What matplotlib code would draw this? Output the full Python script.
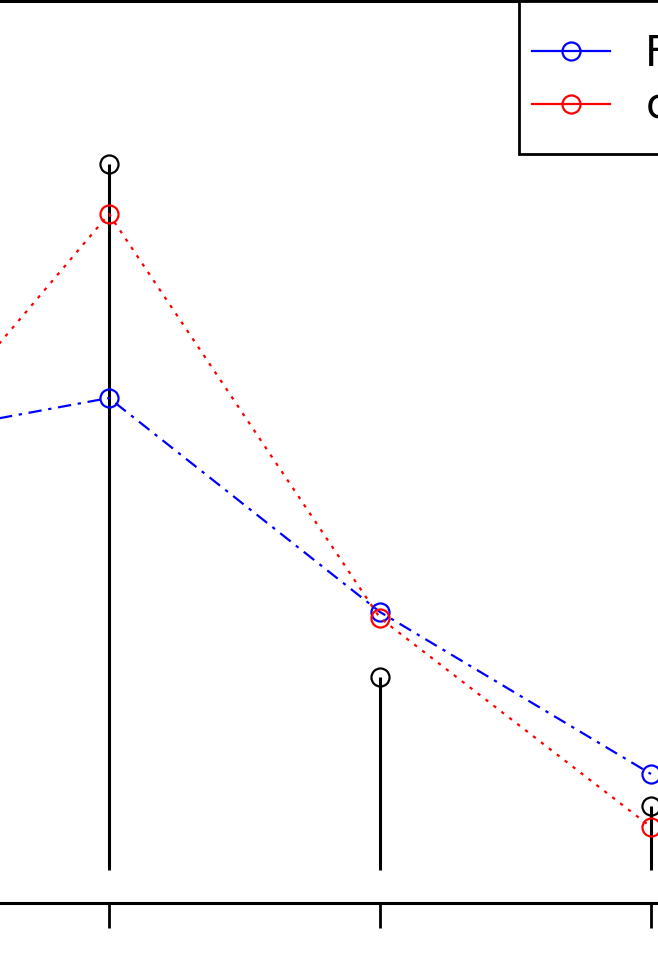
import matplotlib
matplotlib.use("Agg")
import matplotlib.pyplot as plt
from matplotlib.patches import Rectangle
from matplotlib.lines import Line2D

x = [1, 2, 3, 4]
stem_vals = [3.00, 7.06, 1.93, 0.64]
blue_vals = [4.22, 4.72, 2.58, 0.96]
red_vals = [3.36, 6.56, 2.52, 0.43]
labels = ["F", "c"]

W, H = 658, 955
fig = plt.figure(figsize=(W / 100, H / 100), dpi=100)
fig.patch.set_facecolor("white")

# axes geometry in pixels
px_per_unit = 271.0
x2_px = 109.0
xlim = (0.5, 4.5)
left_px = x2_px + (xlim[0] - 2) * px_per_unit
right_px = x2_px + (xlim[1] - 2) * px_per_unit
top_px, bottom_px = 1.0, 903.0
ax = fig.add_axes([left_px / W, 1 - bottom_px / H,
                   (right_px - left_px) / W, (bottom_px - top_px) / H])
ax.set_xlim(*xlim)
ax.set_ylim((870 - bottom_px) / 100, (870 - top_px) / 100)

ms = 13
ml, sl, bl = ax.stem(x, stem_vals, linefmt="k-", markerfmt="ko", basefmt=" ")
plt.setp(sl, linewidth=2.2, color="black")
plt.setp(ml, markersize=ms, markerfacecolor="none", markeredgecolor="black",
         markeredgewidth=1.6)

ax.plot(x, blue_vals, color="blue", linestyle=(0, (6, 3, 1.5, 3)), linewidth=1.6,
        marker="o", markersize=ms, markerfacecolor="none", markeredgewidth=1.6,
        label=labels[0])
ax.plot(x, red_vals, color="red", linestyle=(0, (1.5, 3)), linewidth=1.6,
        marker="o", markersize=ms, markerfacecolor="none", markeredgewidth=1.6,
        label=labels[1])

for s in ax.spines.values():
    s.set_linewidth(2.2)
ax.set_xticks(x)
ax.set_xticklabels([])
ax.set_yticks([])
ax.tick_params(axis="x", direction="out", length=18, width=2.0, color="black")

# legend box (drawn separately to control its padding)
box = Rectangle((519 / W, 1 - 154 / H), (800 - 519) / W, 153 / H,
                transform=fig.transFigure, facecolor="white", edgecolor="black",
                linewidth=2.0, zorder=5)
fig.patches.append(box)

handles = [Line2D([], [], color="blue", lw=1.6, marker="o", ms=ms, mfc="none", mew=1.6),
           Line2D([], [], color="red", lw=1.6, marker="o", ms=ms, mfc="none", mew=1.6)]
leg = fig.legend(handles, labels, loc="upper left",
                 bbox_to_anchor=(532 / W, 1 - 33 / H), bbox_transform=fig.transFigure,
                 fontsize=30, frameon=False,
                 handlelength=1.87, handletextpad=0.85, borderpad=0,
                 labelspacing=0.25, borderaxespad=0)
leg.set_zorder(6)

fig.savefig("out.png", dpi=100, facecolor="white")
